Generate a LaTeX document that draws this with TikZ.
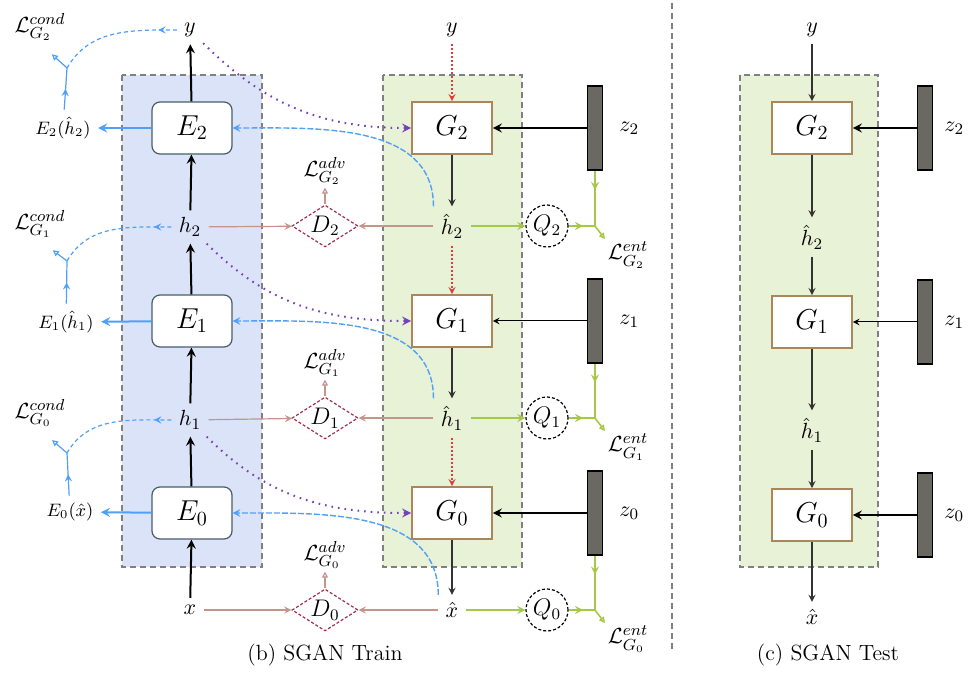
\documentclass[tikz,border=0pt]{standalone}
\usepackage{amsmath}
\usetikzlibrary{shapes.geometric, arrows.meta, decorations.markings}

\definecolor{encblue}{RGB}{218,227,248}
\definecolor{gengreen}{RGB}{231,242,214}
\definecolor{linkblue}{RGB}{80,160,250}
\definecolor{advbrown}{RGB}{195,150,140}
\definecolor{dcrimson}{RGB}{165,45,80}
\definecolor{entgreen}{RGB}{165,200,75}
\definecolor{condpurple}{RGB}{115,65,185}
\definecolor{stackred}{RGB}{225,60,60}
\definecolor{gframe}{RGB}{170,135,90}
\definecolor{eframe}{RGB}{70,95,105}
\definecolor{noisegray}{RGB}{105,105,98}

\begin{document}
\begin{tikzpicture}[x=0.5pt, y=-0.5pt, >=stealth, thick, font=\fontsize{11}{13}\selectfont,
    panel/.style={draw=gray, dash pattern=on 3pt off 2pt, line width=0.6pt},
    enc/.style={draw=eframe, fill=white, rounded corners=4pt, minimum width=40pt, minimum height=26pt, line width=0.6pt, font=\Large},
    gen/.style={draw=gframe, fill=white, minimum width=40pt, minimum height=26pt, line width=0.8pt, font=\Large},
    disc/.style={diamond, draw=dcrimson, dash pattern=on 1.5pt off 1pt, fill=white, aspect=1.6, minimum width=33pt, minimum height=21pt, inner sep=0pt, line width=0.6pt, font=\large},
    qnet/.style={circle, draw, dash pattern=on 1.5pt off 1pt, fill=white, minimum size=21pt, inner sep=0pt, line width=0.6pt, font=\large},
    noise/.style={draw=black, fill=noisegray, minimum width=7.5pt, minimum height=42pt, inner sep=0pt, line width=0.6pt},
    loss/.style={inner sep=1pt},
    mainarrow/.style={->, line width=1pt},
    genarrow/.style={->, line width=0.6pt, black!80},
    advlink/.style={->, advbrown, line width=0.6pt},
    stacklink/.style={->, stackred, dash pattern=on 1pt off 1pt, line width=0.6pt},
    condlink/.style={->, condpurple, dash pattern=on 0.8pt off 2.5pt, line width=1pt},
    recon/.style={->, linkblue, dash pattern=on 3pt off 1pt, line width=0.7pt},
    encarrow/.style={->, linkblue, line width=1pt},
    condloss/.style={linkblue, line width=0.6pt},
    entlink/.style={entgreen, line width=0.8pt},
    midarrow/.style={postaction={decorate}, decoration={markings, mark=at position #1 with {\arrow{stealth}}}}]
    \useasboundingbox (0,0) rectangle (968,678);

    % Panels
    \draw[panel, fill=encblue] (122,75) rectangle (262,567);
    \draw[panel, fill=gengreen] (383,75) rectangle (522,567);
    \draw[panel, fill=gengreen] (740,75) rectangle (878,567);
    \draw[gray, dash pattern=on 3pt off 2pt, line width=0.6pt] (672,3) -- (672,650);

    % Train: variables
    \node (x) at (190,610) {$x$};
    \node (h1) at (190,420) {$h_1$};
    \node (h2) at (190,227) {$h_2$};
    \node (y) at (190,30) {$y$};
    \node (xh) at (452,610) {$\hat{x}$};
    \node (hh1) at (452,418) {$\hat{h}_1$};
    \node (hh2) at (452,226) {$\hat{h}_2$};
    \node (yg) at (452,30) {$y$};

    % Train: encoders, generators, noise
    \foreach \i/\r/\w in {0/513/1pt, 1/321/0.5pt, 2/128/1pt} {
        \node[enc] (E\i) at (192,\r) {$E_\i$};
        \node[gen] (G\i) at (452,\r) {$G_\i$};
        \node[noise] (bar\i) at (595,\r) {};
        \node[right] (z\i) at (612,\r) {$z_\i$};
        \draw[->, line width=\w] (bar\i) -- (G\i);
    }

    % Train: discriminators and Q
    \foreach \i/\v in {0/610, 1/418, 2/226} {
        \node[disc] (D\i) at (325,\v) {$D_\i$};
        \node[qnet] (Q\i) at (547,\v) {$Q_\i$};
        \coordinate (je\i) at (595,\v);
        \node[loss] (Ladv\i) at (325,\v-55) {$\mathcal{L}^{adv}_{G_\i}$};
        \node[loss] (Lent\i) at (628,\v+29) {$\mathcal{L}^{ent}_{G_\i}$};
        \draw[advlink, -{Triangle[open, length=3pt, width=3pt]}] (D\i) -- (Ladv\i);
    }

    % Encoder stack
    \foreach \a/\b in {x/E0, E0/h1, h1/E1, E1/h2, h2/E2, E2/y}
        \draw[mainarrow] (\a) -- (\b);

    % Generator stack
    \foreach \a/\b in {G2/hh2, G1/hh1, G0/xh}
        \draw[genarrow] (\a) -- (\b);
    \foreach \a/\b in {yg/G2, hh2/G1, hh1/G0}
        \draw[stacklink] (\a) -- (\b);

    % Adversarial, reconstruction, entropy
    \foreach \a/\b/\i in {x/xh/0, h1/hh1/1, h2/hh2/2} {
        \draw[advlink] (\a) -- (D\i);
        \draw[advlink] (\b) -- (D\i);
        \draw[recon] (\b.north west) to[out=90, in=0] (E\i);
        \draw[entlink, ->] (\b) -- (Q\i);
        \draw[entlink, midarrow=0.55] (Q\i) -- (je\i);
        \draw[entlink, midarrow=0.35] (bar\i) -- (je\i);
        \draw[entlink, -{Triangle[open, length=3pt, width=3pt]}] (je\i) -- (Lent\i.north west);
    }

    % Conditional inputs
    \foreach \a/\i in {y/2, h2/1, h1/0}
        \draw[condlink] (\a) to[out=-45, in=180] (G\i);

    % Conditional losses
    \node (enc0) at (70,512) {\small $E_0(\hat{x})$};
    \node (enc1) at (66,322) {\small $E_1(\hat{h}_1)$};
    \node (enc2) at (63,128) {\small $E_2(\hat{h}_2)$};
    \node[loss] (Lcond0) at (40,413) {$\mathcal{L}^{cond}_{G_0}$};
    \node[loss] (Lcond1) at (40,224) {$\mathcal{L}^{cond}_{G_1}$};
    \node[loss] (Lcond2) at (40,27) {$\mathcal{L}^{cond}_{G_2}$};
    \foreach \i/\r/\a in {0/513/h1, 1/321/h2, 2/128/y} {
        \coordinate (jc\i) at (67,\r-60);
        \draw[encarrow] (E\i) -- (enc\i);
        \draw[condloss, midarrow=0.5] (enc\i) -- (jc\i);
        \draw[condloss, dash pattern=on 2pt off 1.5pt, midarrow=0.15] (\a) to[out=180, in=60] (jc\i);
        \draw[condloss, -{Triangle[open, length=3pt, width=3pt]}, shorten >=8pt] (jc\i) -- (Lcond\i.south);
    }

    % Test
    \node (ty) at (812,30) {$y$};
    \node (th2) at (812,237) {$\hat{h}_2$};
    \node (th1) at (812,430) {$\hat{h}_1$};
    \node (tx) at (812,617) {$\hat{x}$};
    \foreach \i/\r/\w in {0/515/1pt, 1/322/0.5pt, 2/128/1pt} {
        \node[gen] (tG\i) at (812,\r) {$G_\i$};
        \node[noise] (tbar\i) at (925,\r) {};
        \node[right] (tz\i) at (937,\r) {$z_\i$};
        \draw[->, line width=\w] (tbar\i) -- (tG\i);
    }
    \foreach \a/\b in {ty/tG2, tG2/th2, th2/tG1, tG1/th1, th1/tG0, tG0/tx}
        \draw[genarrow] (\a) -- (\b);

    % Captions
    \node (captrain) at (325,655) {(b) SGAN Train};
    \node (captest) at (828,655) {(c) SGAN Test};
\end{tikzpicture}
\end{document}
